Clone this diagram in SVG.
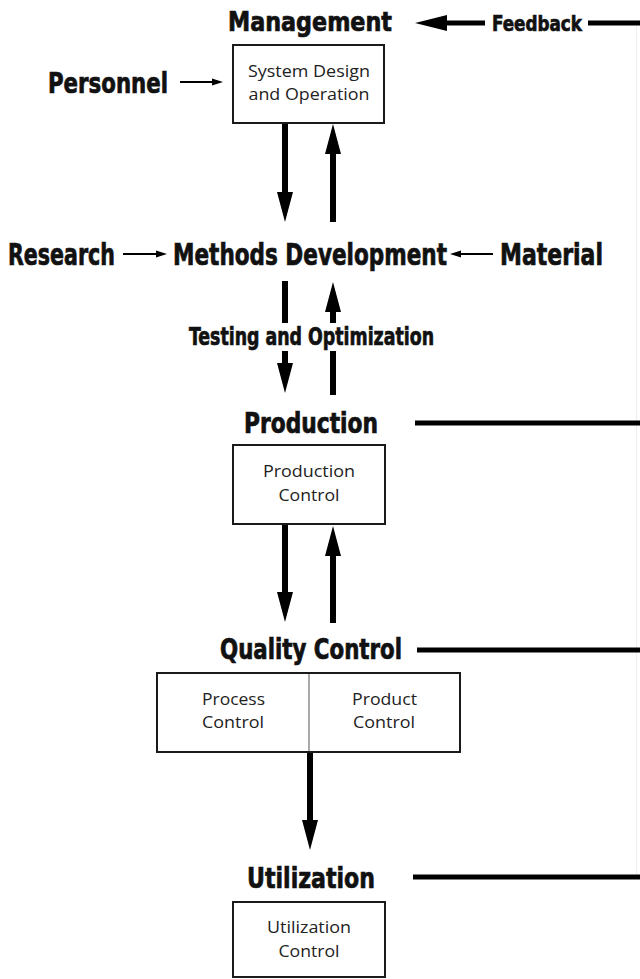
<svg xmlns="http://www.w3.org/2000/svg" width="640" height="979" viewBox="0 0 640 979">
  <style>
    .head { font-family: "DejaVu Sans Condensed", "DejaVu Sans", sans-serif; font-weight: bold; font-stretch: condensed; fill: #111; stroke: #111; stroke-width: 0.7; }
    .lbl { font-family: "Open Sans", "Liberation Sans", sans-serif; font-size: 16.5px; fill: #222; text-anchor: middle; }
    .box { fill: #fff; stroke: #1a1a1a; stroke-width: 2; }
    .thick { stroke: #000; stroke-width: 6; fill: none; }
    .thin { stroke: #000; stroke-width: 2; fill: none; }
    .bar { stroke: #000; stroke-width: 5; fill: none; }
  </style>
  <defs>
    <marker id="bigHead" markerUnits="userSpaceOnUse" markerWidth="30" markerHeight="16" refX="0" refY="8" orient="auto" overflow="visible">
      <path d="M0,0 L30,8 L0,16 Z" fill="#000"/>
    </marker>
    <marker id="fbHead" markerUnits="userSpaceOnUse" markerWidth="32" markerHeight="16" refX="0" refY="8" orient="auto" overflow="visible">
      <path d="M0,0 L32,8 L0,16 Z" fill="#000"/>
    </marker>
    <marker id="smallHead" markerUnits="userSpaceOnUse" markerWidth="11" markerHeight="7" refX="0" refY="3.5" orient="auto" overflow="visible">
      <path d="M0,0 L11,3.5 L0,7 Z" fill="#000"/>
    </marker>
  </defs>
  <rect width="640" height="979" fill="#fff"/>

  <!-- connectors -->
  <g id="connectors">
    <!-- feedback return path along the right edge -->
    <line x1="636.5" y1="26" x2="636.5" y2="877" stroke="#eeeeee" stroke-width="1"/>
    <line class="bar" x1="588" y1="23" x2="640" y2="23"/>
    <line class="bar" x1="485" y1="23" x2="447" y2="23" marker-end="url(#fbHead)"/>
    <line class="bar" x1="415" y1="423" x2="640" y2="423"/>
    <line class="bar" x1="417" y1="650" x2="640" y2="650"/>
    <line class="bar" x1="413" y1="877" x2="640" y2="877"/>

    <!-- inputs -->
    <line class="thin" x1="180" y1="82" x2="212" y2="82" marker-end="url(#smallHead)"/>
    <line class="thin" x1="123" y1="254" x2="156" y2="254" marker-end="url(#smallHead)"/>
    <line class="thin" x1="493" y1="254" x2="461" y2="254" marker-end="url(#smallHead)"/>

    <!-- management <-> methods development -->
    <line class="thick" x1="285" y1="123" x2="285" y2="192" marker-end="url(#bigHead)"/>
    <line class="thick" x1="333" y1="222" x2="333" y2="154" marker-end="url(#bigHead)"/>

    <!-- methods development <-> production -->
    <line class="thick" x1="285" y1="281" x2="285" y2="323"/>
    <line class="thick" x1="285" y1="351" x2="285" y2="363" marker-end="url(#bigHead)"/>
    <line class="thick" x1="333" y1="323" x2="333" y2="312" marker-end="url(#bigHead)"/>
    <line class="thick" x1="333" y1="351" x2="333" y2="395"/>

    <!-- production <-> quality control -->
    <line class="thick" x1="285" y1="524" x2="285" y2="592" marker-end="url(#bigHead)"/>
    <line class="thick" x1="333" y1="623" x2="333" y2="556" marker-end="url(#bigHead)"/>

    <!-- quality control -> utilization -->
    <line class="thick" x1="310" y1="752" x2="310" y2="820" marker-end="url(#bigHead)"/>
  </g>

  <g id="feedback">
    <text class="head" x="492" y="31" font-size="22" textLength="90" lengthAdjust="spacingAndGlyphs">Feedback</text>
  </g>

  <g id="management">
    <text class="head" x="228" y="31" font-size="27" textLength="164" lengthAdjust="spacingAndGlyphs">Management</text>
    <rect class="box" x="233" y="45" width="151" height="78"/>
    <text class="lbl" x="309" y="77" textLength="122" lengthAdjust="spacingAndGlyphs">System Design</text>
    <text class="lbl" x="309" y="100" textLength="121" lengthAdjust="spacingAndGlyphs">and Operation</text>
  </g>

  <g id="personnel">
    <text class="head" x="48" y="93" font-size="29" textLength="120" lengthAdjust="spacingAndGlyphs">Personnel</text>
  </g>

  <g id="research">
    <text class="head" x="8" y="265" font-size="30" textLength="107" lengthAdjust="spacingAndGlyphs">Research</text>
  </g>

  <g id="methods-development">
    <text class="head" x="173" y="265" font-size="30" textLength="274" lengthAdjust="spacingAndGlyphs">Methods Development</text>
    <text class="head" x="189" y="345" font-size="25" textLength="245" lengthAdjust="spacingAndGlyphs">Testing and Optimization</text>
  </g>

  <g id="material">
    <text class="head" x="500" y="265" font-size="30" textLength="103" lengthAdjust="spacingAndGlyphs">Material</text>
  </g>

  <g id="production">
    <text class="head" x="244" y="433" font-size="28" textLength="134" lengthAdjust="spacingAndGlyphs">Production</text>
    <rect class="box" x="233" y="445" width="152" height="79"/>
    <text class="lbl" x="309" y="477" textLength="92" lengthAdjust="spacingAndGlyphs">Production</text>
    <text class="lbl" x="309" y="501" textLength="61" lengthAdjust="spacingAndGlyphs">Control</text>
  </g>

  <g id="quality-control">
    <text class="head" x="220" y="659" font-size="28" textLength="182" lengthAdjust="spacingAndGlyphs">Quality Control</text>
    <rect class="box" x="157" y="673" width="303" height="79"/>
    <line x1="309" y1="674" x2="309" y2="751" stroke="#555" stroke-width="1"/>
    <text class="lbl" x="233.5" y="705" textLength="63" lengthAdjust="spacingAndGlyphs">Process</text>
    <text class="lbl" x="233" y="728" textLength="62" lengthAdjust="spacingAndGlyphs">Control</text>
    <text class="lbl" x="384.5" y="705" textLength="65" lengthAdjust="spacingAndGlyphs">Product</text>
    <text class="lbl" x="384" y="728" textLength="62" lengthAdjust="spacingAndGlyphs">Control</text>
  </g>

  <g id="utilization">
    <text class="head" x="247" y="888" font-size="29" textLength="128" lengthAdjust="spacingAndGlyphs">Utilization</text>
    <rect class="box" x="233" y="902" width="152" height="75"/>
    <text class="lbl" x="309" y="933" textLength="84" lengthAdjust="spacingAndGlyphs">Utilization</text>
    <text class="lbl" x="309" y="957" textLength="61" lengthAdjust="spacingAndGlyphs">Control</text>
  </g>
</svg>
